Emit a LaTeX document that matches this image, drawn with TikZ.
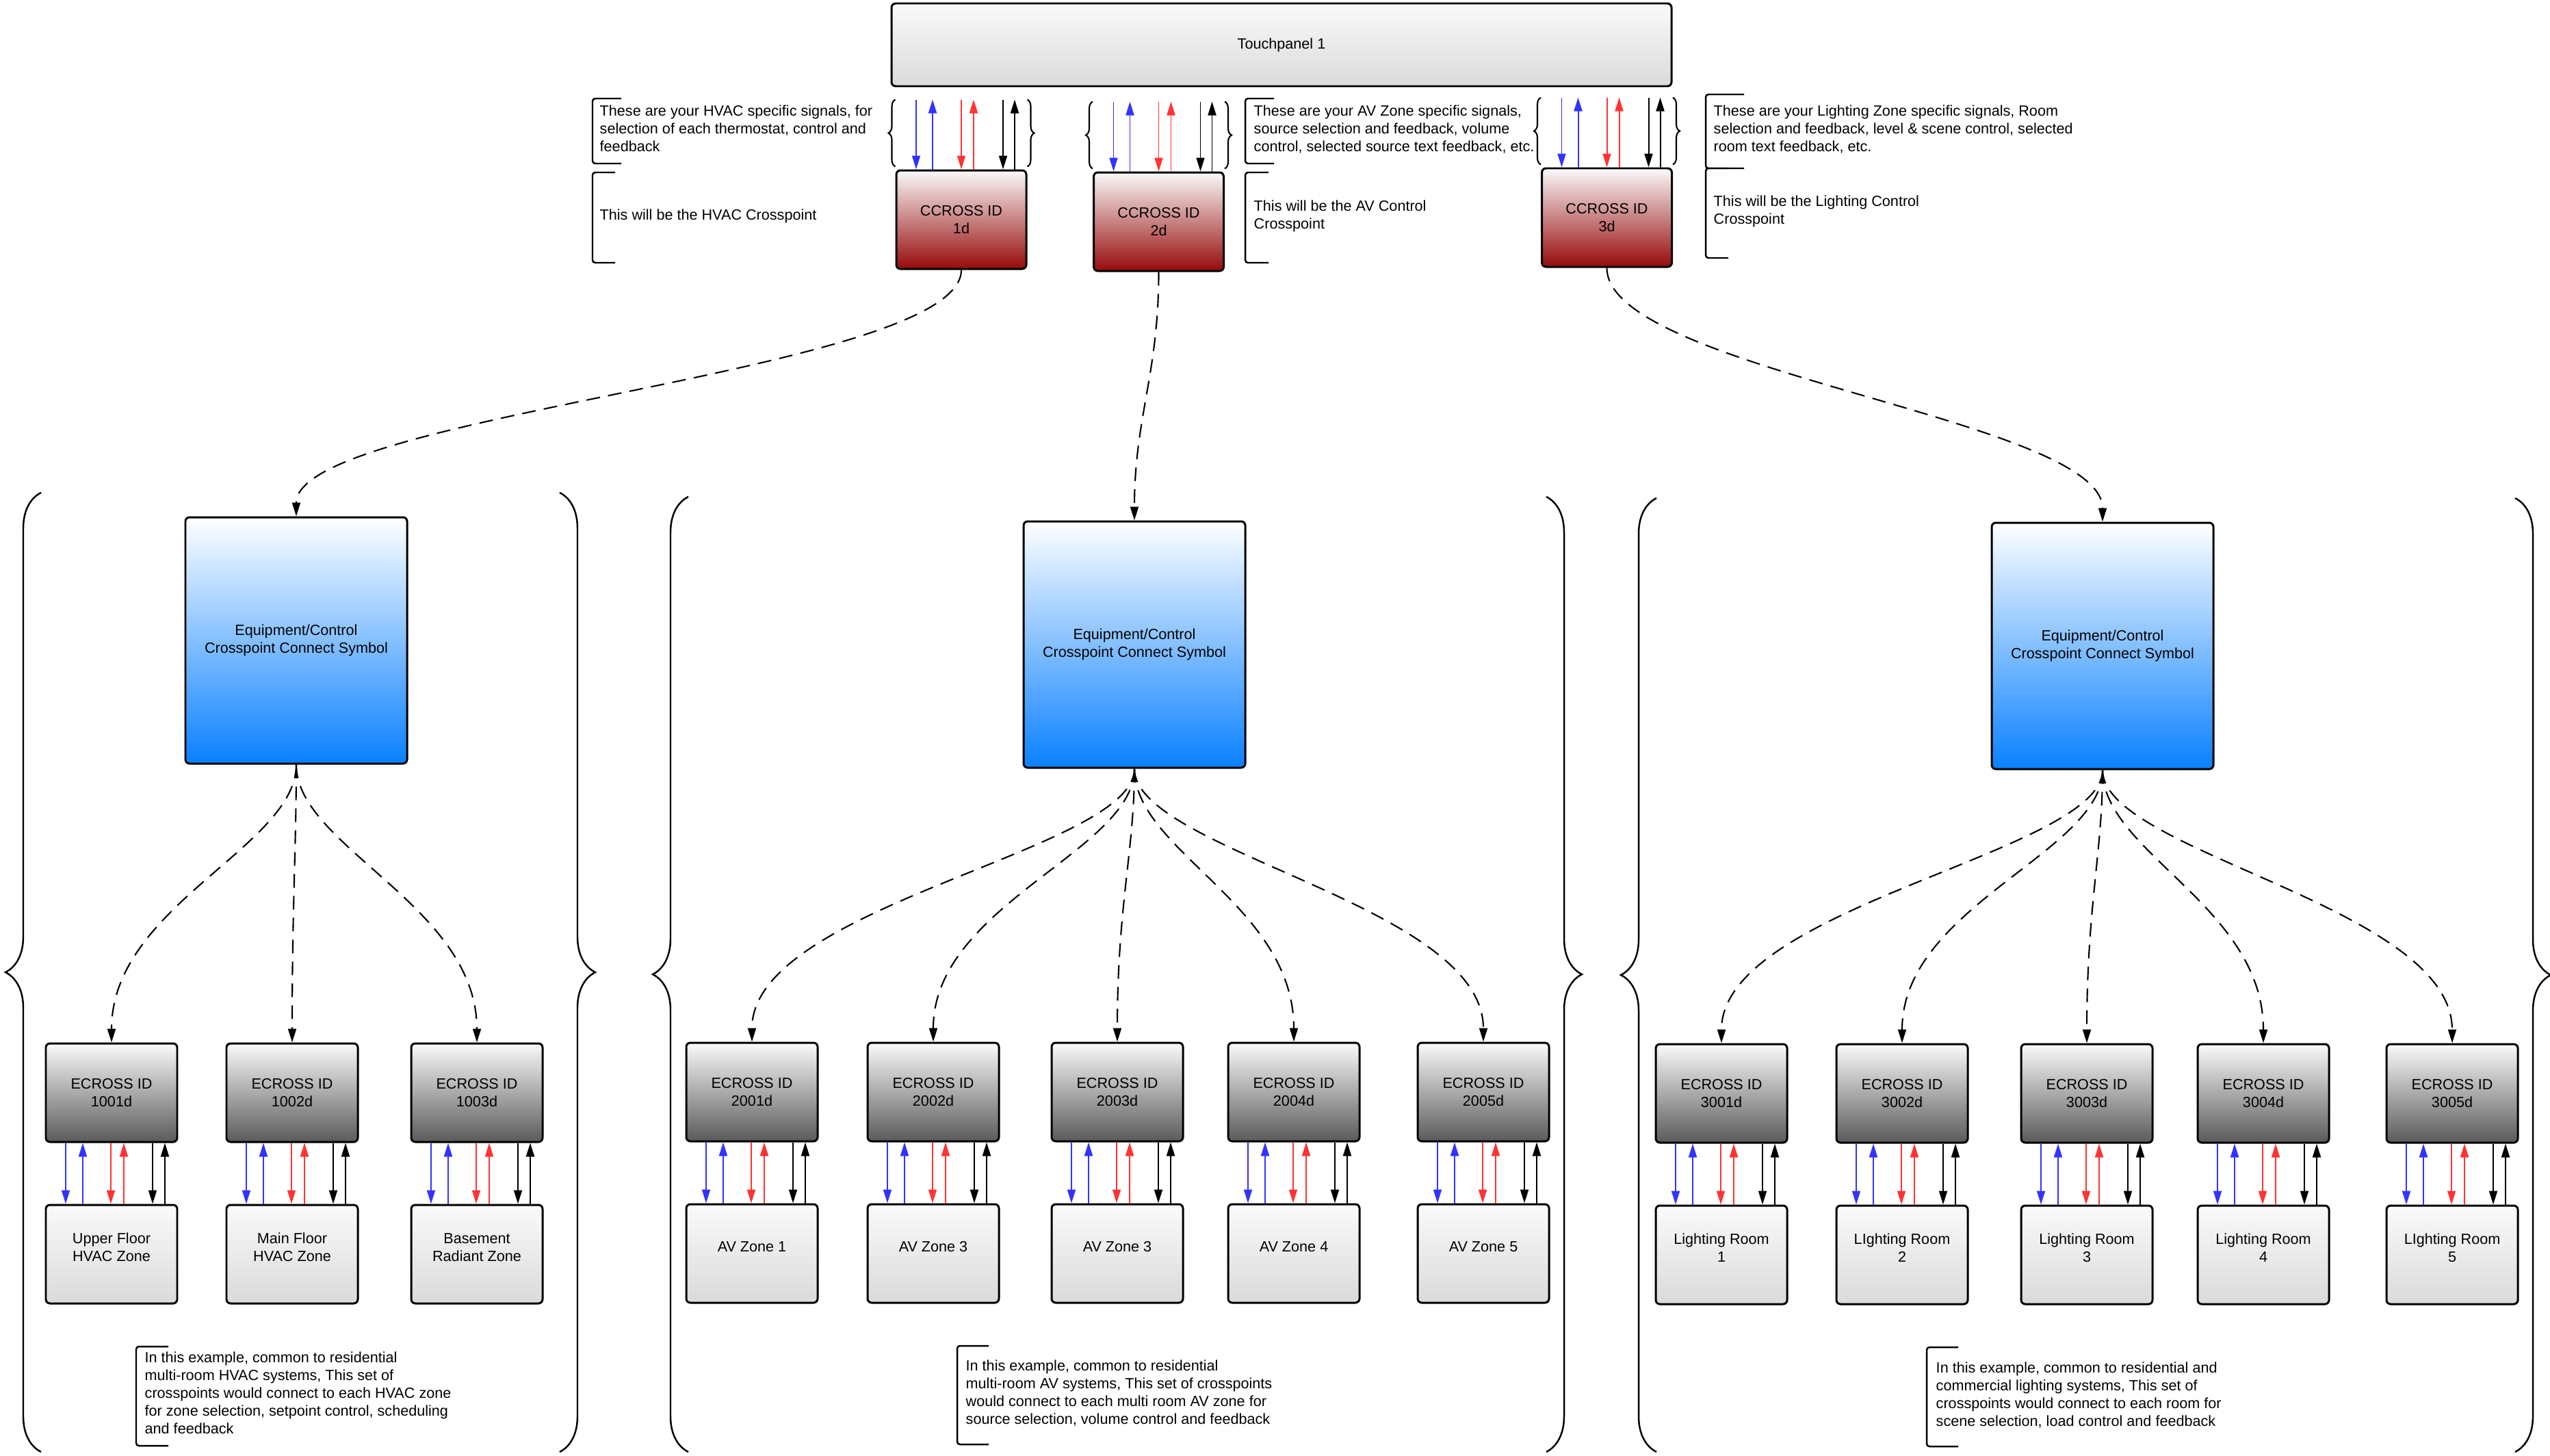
\documentclass[tikz,border=0pt]{standalone}
\usepackage{fontspec}
\setmainfont{Liberation Sans}
\usepackage{tikz}
\usetikzlibrary{arrows.meta,positioning,calc,decorations.pathreplacing}
\usepackage{xcolor}
\definecolor{cpred}{RGB}{150,10,10}
\definecolor{cpblue}{RGB}{10,128,255}
\definecolor{cpdark}{RGB}{90,90,90}
\definecolor{cplight}{RGB}{218,218,218}
\definecolor{cpwhite}{RGB}{250,250,250}
\definecolor{sigblue}{RGB}{51,51,255}
\definecolor{sigred}{RGB}{255,51,51}
\newcommand{\cpfont}{\fontsize{6.15}{7.4}\selectfont}
\tikzstyle{basebox} = [rectangle, rounded corners=0.06cm, draw=black, line width=0.85pt, align=center, inner sep=0pt, font=\cpfont]
\tikzstyle{panelbox} = [basebox, minimum width=11.4cm, minimum height=1.21cm, top color=cpwhite, bottom color=cplight]
\tikzstyle{ccrossbox} = [basebox, minimum width=1.9cm, minimum height=1.44cm, top color=cpwhite, bottom color=cpred]
\tikzstyle{symbolbox} = [basebox, minimum width=3.24cm, minimum height=3.6cm, top color=white, bottom color=cpblue]
\tikzstyle{ecrossbox} = [basebox, minimum width=1.92cm, minimum height=1.44cm, top color=cpwhite, bottom color=cpdark]
\tikzstyle{zonebox} = [basebox, minimum width=1.92cm, minimum height=1.44cm, text depth=0.2cm, top color=cpwhite, bottom color=cplight]
\tikzstyle{notetext} = [anchor=north west, align=left, inner sep=0pt, font=\cpfont]
\tikzstyle{bracket} = [line width=0.7pt, rounded corners=0.04cm]
\tikzstyle{bigbrace} = [line width=0.7pt, decorate, decoration={brace, amplitude=0.52cm}]
\tikzstyle{smallbrace} = [line width=0.6pt, decorate, decoration={brace, amplitude=0.1cm}]
\tikzstyle{link} = [line width=0.6pt, dash pattern=on 0.2cm off 0.12cm, -{Triangle[length=0.2cm, width=0.12cm]}]
\tikzstyle{sigline} = [line width=0.55pt, -{Triangle[length=0.2cm, width=0.12cm]}]

\begin{document}
\begin{tikzpicture}
\useasboundingbox (0,0) rectangle (37.27,-21.27);

% Touchpanel
\node[panelbox] (tp) at (18.73,-0.655) {Touchpanel 1};

% Control crosspoints
\node[ccrossbox] (c1) at (14.05,-3.21) {CCROSS ID\\1d};
\node[ccrossbox] (c2) at (16.935,-3.24) {CCROSS ID\\2d};
\node[ccrossbox] (c3) at (23.485,-3.18) {CCROSS ID\\3d};

% Signals into the control crosspoints
\foreach \c in {c1,c2,c3} {
  \foreach \dx/\col in {-0.66/sigblue, 0/sigred, 0.61/black}
    \draw[sigline, \col] ([xshift=\dx cm, yshift=1.02cm]\c.north) -- ([xshift=\dx cm]\c.north);
  \foreach \dx/\col in {-0.42/sigblue, 0.18/sigred, 0.78/black}
    \draw[sigline, \col] ([xshift=\dx cm]\c.north) -- ([xshift=\dx cm, yshift=1.02cm]\c.north);
  \draw[smallbrace] ([yshift=0.04cm]\c.north west) -- ++(0,0.98);
  \draw[smallbrace] ([yshift=1.02cm]\c.north east) -- ++(0,-0.98);
}

% Notes at the top
\node[notetext] (n1) at (8.76,-1.53) {These are your HVAC specific signals, for\\selection of each thermostat, control and\\feedback};
\draw[bracket] (9.08,-1.44) -- (8.66,-1.44) -- (8.66,-2.39) -- (9.08,-2.39);
\node[notetext] (n2) at (8.76,-3.05) {This will be the HVAC Crosspoint};
\draw[bracket] (8.99,-2.52) -- (8.66,-2.52) -- (8.66,-3.84) -- (8.99,-3.84);

\node[notetext] (n3) at (18.32,-1.53) {These are your AV Zone specific signals,\\source selection and feedback, volume\\control, selected source text feedback, etc.};
\draw[bracket] (18.62,-1.44) -- (18.20,-1.44) -- (18.20,-2.39) -- (18.62,-2.39);
\node[notetext] (n4) at (18.32,-2.92) {This will be the AV Control\\Crosspoint};
\draw[bracket] (18.54,-2.52) -- (18.20,-2.52) -- (18.20,-3.84) -- (18.54,-3.84);

\node[notetext] (n5) at (25.04,-1.53) {These are your Lighting Zone specific signals, Room\\selection and feedback, level \& scene control, selected\\room text feedback, etc.};
\draw[bracket] (25.49,-1.38) -- (24.93,-1.38) -- (24.93,-2.46) -- (25.49,-2.46);
\node[notetext] (n6) at (25.04,-2.85) {This will be the Lighting Control\\Crosspoint};
\draw[bracket] (25.26,-2.46) -- (24.93,-2.46) -- (24.93,-3.77) -- (25.26,-3.77);

% Connect symbols
\node[symbolbox] (s1) at (4.33,-9.36) {Equipment/Control\\Crosspoint Connect Symbol};
\node[symbolbox] (s2) at (16.58,-9.42) {Equipment/Control\\Crosspoint Connect Symbol};
\node[symbolbox] (s3) at (30.73,-9.44) {Equipment/Control\\Crosspoint Connect Symbol};

\draw[link] (c1.south) .. controls +(0,-1.5) and +(0,1.5) .. (s1.north);
\draw[link] (c2.south) .. controls +(0,-1.5) and +(0,1.5) .. (s2.north);
\draw[link] (c3.south) .. controls +(0,-1.5) and +(0,1.5) .. (s3.north);

% HVAC crosspoints
\node[ecrossbox] (h1) at (1.63,-15.97) {ECROSS ID\\1001d};
\node[ecrossbox] (h2) at (4.27,-15.97) {ECROSS ID\\1002d};
\node[ecrossbox] (h3) at (6.97,-15.97) {ECROSS ID\\1003d};
\node[zonebox, below=0.89cm of h1] (hz1) {Upper Floor\\HVAC Zone};
\node[zonebox, below=0.89cm of h2] (hz2) {Main Floor\\HVAC Zone};
\node[zonebox, below=0.89cm of h3] (hz3) {Basement\\Radiant Zone};

% AV crosspoints
\node[ecrossbox] (a1) at (10.99,-15.96) {ECROSS ID\\2001d};
\node[ecrossbox] (a2) at (13.64,-15.96) {ECROSS ID\\2002d};
\node[ecrossbox] (a3) at (16.33,-15.96) {ECROSS ID\\2003d};
\node[ecrossbox] (a4) at (18.91,-15.96) {ECROSS ID\\2004d};
\node[ecrossbox] (a5) at (21.68,-15.96) {ECROSS ID\\2005d};
\node[zonebox, below=0.89cm of a1] (az1) {AV Zone 1};
\node[zonebox, below=0.89cm of a2] (az2) {AV Zone 3};
\node[zonebox, below=0.89cm of a3] (az3) {AV Zone 3};
\node[zonebox, below=0.89cm of a4] (az4) {AV Zone 4};
\node[zonebox, below=0.89cm of a5] (az5) {AV Zone 5};

% Lighting crosspoints
\node[ecrossbox] (l1) at (25.16,-15.98) {ECROSS ID\\3001d};
\node[ecrossbox] (l2) at (27.80,-15.98) {ECROSS ID\\3002d};
\node[ecrossbox] (l3) at (30.50,-15.98) {ECROSS ID\\3003d};
\node[ecrossbox] (l4) at (33.08,-15.98) {ECROSS ID\\3004d};
\node[ecrossbox] (l5) at (35.84,-15.98) {ECROSS ID\\3005d};
\node[zonebox, below=0.89cm of l1] (lz1) {Lighting Room\\1};
\node[zonebox, below=0.89cm of l2] (lz2) {LIghting Room\\2};
\node[zonebox, below=0.89cm of l3] (lz3) {Lighting Room\\3};
\node[zonebox, below=0.89cm of l4] (lz4) {Lighting Room\\4};
\node[zonebox, below=0.89cm of l5] (lz5) {LIghting Room\\5};

% Fan out
\foreach \t in {h1,h2,h3}
  \draw[link] (s1.south) .. controls +(0,-1.2) and +(0,2) .. (\t.north);
\foreach \t in {a1,a2,a3,a4,a5}
  \draw[link] (s2.south) .. controls +(0,-1.2) and +(0,2) .. (\t.north);
\foreach \t in {l1,l2,l3,l4,l5}
  \draw[link] (s3.south) .. controls +(0,-1.2) and +(0,2) .. (\t.north);

% Signals between crosspoints and zones
\foreach \e/\z in {h1/hz1,h2/hz2,h3/hz3,a1/az1,a2/az2,a3/az3,a4/az4,a5/az5,l1/lz1,l2/lz2,l3/lz3,l4/lz4,l5/lz5} {
  \foreach \dx/\col in {-0.67/sigblue, -0.01/sigred, 0.60/black}
    \draw[sigline, \col] ([xshift=\dx cm]\e.south) -- ([xshift=\dx cm]\z.north);
  \foreach \dx/\col in {-0.42/sigblue, 0.18/sigred, 0.78/black}
    \draw[sigline, \col] ([xshift=\dx cm]\z.north) -- ([xshift=\dx cm]\e.south);
}

% Group braces
\draw[bigbrace] (0.60,-21.22) -- (0.60,-7.20);
\draw[bigbrace] (8.18,-7.20) -- (8.18,-21.22);
\draw[bigbrace] (10.06,-21.22) -- (10.06,-7.26);
\draw[bigbrace] (22.60,-7.26) -- (22.60,-21.22);
\draw[bigbrace] (24.21,-21.22) -- (24.21,-7.28);
\draw[bigbrace] (36.76,-7.28) -- (36.76,-21.22);

% Notes at the bottom
\node[notetext] (n7) at (2.11,-19.75) {In this example, common to residential\\multi-room HVAC systems, This set of\\crosspoints would connect to each HVAC zone\\for zone selection, setpoint control, scheduling\\and feedback};
\draw[bracket] (2.46,-19.68) -- (1.99,-19.68) -- (1.99,-21.13) -- (2.46,-21.13);
\node[notetext] (n8) at (14.11,-19.87) {In this example, common to residential\\multi-room AV systems, This set of crosspoints\\would connect to each multi room AV zone for\\source selection, volume control and feedback};
\draw[bracket] (14.45,-19.67) -- (13.99,-19.67) -- (13.99,-21.11) -- (14.45,-21.11);
\node[notetext] (n9) at (28.29,-19.90) {In this example, common to residential and\\commercial lighting systems, This set of\\crosspoints would connect to each room for\\scene selection, load control and feedback};
\draw[bracket] (28.62,-19.69) -- (28.16,-19.69) -- (28.16,-21.14) -- (28.62,-21.14);
\end{tikzpicture}
\end{document}
